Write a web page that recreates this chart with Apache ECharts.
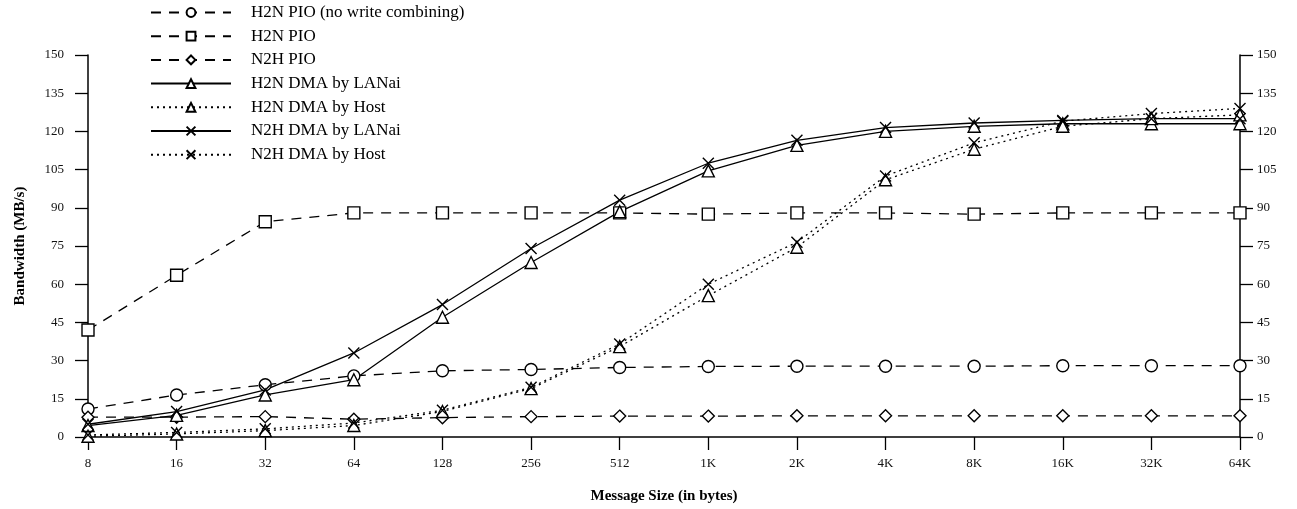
<!DOCTYPE html>
<html><head><meta charset="utf-8">
<script src="https://cdn.jsdelivr.net/npm/echarts@6/dist/echarts.min.js"></script>
<style>html,body{margin:0;padding:0;background:#fff}#c{width:1297px;height:509px}</style>
</head><body><div id="c"></div>
<script>
const categories = ['8','16','32','64','128','256','512','1K','2K','4K','8K','16K','32K','64K'];
const yTicks = [0,15,30,45,60,75,90,105,120,135,150];
const h2nPioNoWC = [11,16.5,20.5,24,26,26.5,27.3,27.7,27.8,27.8,27.8,28,28,28];
const h2nPio = [42,63.5,84.5,88,88,88,88,87.5,88,88,87.5,88,88,88];
const n2hPio = [7.8,7.8,8,7,7.6,8,8.2,8.2,8.3,8.3,8.3,8.3,8.3,8.3];
const h2nDmaLanai = [4.5,8.5,16.5,22.5,47,68.5,88.5,104.5,114.5,120,122,123,123,123];
const h2nDmaHost = [0.3,1.2,2.5,4.5,10,19,35.5,55.5,74.5,101,113,122,125,126.5];
const n2hDmaLanai = [5,10,18.5,33,52,74,93,107.5,116.5,121.5,123.3,124.3,125,125];
const n2hDmaHost = [0.8,1.8,3.2,5.5,10.5,19.5,36.5,60,76.5,102.5,115.5,124,127,129];

const FONT = 'Liberation Serif';
const CROSS = 'path://M0,0L10,10M10,0L0,10';
function mk(name, data, symbol, dash, size) {
  return {
    name, type: 'line', data, symbol, symbolSize: size || 12,
    showAllSymbol: true,
    lineStyle: { color: '#000', width: 1.3, type: dash },
    itemStyle: { color: '#fff', borderColor: '#000', borderWidth: 1.4 },
    emphasis: { disabled: true }, animation: false
  };
}
const chart = echarts.init(document.getElementById('c'));
const axisCommon = {
  axisLine: { show: true, lineStyle: { color: '#000', width: 1.5 } },
  axisTick: { show: true, inside: false, length: 13, lineStyle: { color: '#000', width: 1.3 } },
  splitLine: { show: false },
  axisLabel: { color: '#111', fontFamily: FONT, fontSize: 13 }
};
chart.setOption({
  backgroundColor: '#fff',
  animation: false,
  grid: { left: 88, right: 57, top: 55, bottom: 71 },
  legend: {
    orient: 'vertical', left: 145, top: -1, itemWidth: 80, itemHeight: 11, itemGap: 6.7,
    textStyle: { color: '#000', fontFamily: FONT, fontSize: 17, lineHeight: 17, padding: [0, 0, 0, 15] },
    data: ['H2N PIO (no write combining)','H2N PIO','N2H PIO','H2N DMA by LANai','H2N DMA by Host','N2H DMA by LANai','N2H DMA by Host']
  },
  xAxis: Object.assign({}, axisCommon, {
    type: 'category', data: categories, boundaryGap: false,
    name: 'Message Size (in bytes)', nameLocation: 'middle', nameGap: 52,
    nameTextStyle: { color: '#000', fontFamily: FONT, fontSize: 15, fontWeight: 'bold' },
    axisLabel: Object.assign({}, axisCommon.axisLabel, { margin: 20, interval: 0 })
  }),
  yAxis: [
    Object.assign({}, axisCommon, {
      type: 'value', min: 0, max: 150, interval: 15, position: 'left',
      name: 'Bandwidth (MB/s)', nameLocation: 'middle', nameGap: 60, nameRotate: 90,
      nameTextStyle: { color: '#000', fontFamily: FONT, fontSize: 15, fontWeight: 'bold' },
      axisLabel: Object.assign({}, axisCommon.axisLabel, { margin: 24 })
    }),
    Object.assign({}, axisCommon, {
      type: 'value', min: 0, max: 150, interval: 15, position: 'right',
      axisLabel: Object.assign({}, axisCommon.axisLabel, { margin: 17 })
    })
  ],
  series: [
    mk('H2N PIO (no write combining)', h2nPioNoWC, 'circle', [10, 8], 12),
    mk('H2N PIO', h2nPio, 'rect', [10, 8], 12),
    mk('N2H PIO', n2hPio, 'diamond', [10, 8], 12),
    mk('H2N DMA by LANai', h2nDmaLanai, 'triangle', 'solid', 12),
    mk('H2N DMA by Host', h2nDmaHost, 'triangle', [2, 4], 12),
    mk('N2H DMA by LANai', n2hDmaLanai, CROSS, 'solid', 11),
    mk('N2H DMA by Host', n2hDmaHost, CROSS, [2, 4], 11)
  ]
});
</script></body></html>
